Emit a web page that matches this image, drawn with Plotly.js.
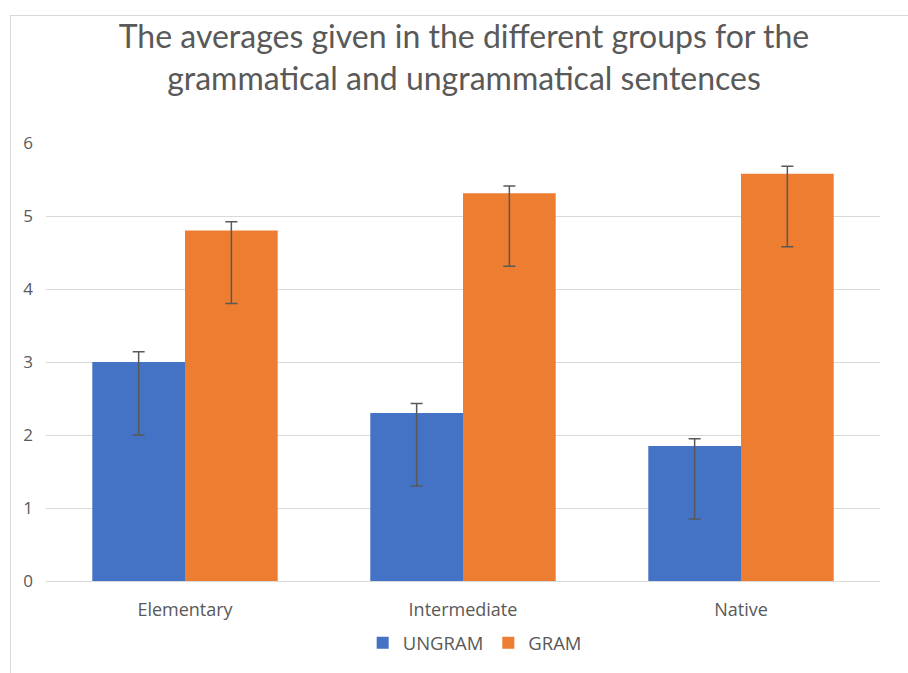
<!DOCTYPE html>
<html>
<head>
<meta charset="utf-8">
<script src="https://cdn.plot.ly/plotly-3.0.1.min.js"></script>
<style>
html,body{margin:0;padding:0;background:#fff;overflow:hidden;}
#frame{position:absolute;left:10px;top:15px;width:1000px;height:800px;border:1px solid #d9d9d9;}
#chart{position:absolute;left:0;top:0;width:908px;height:673px;}
</style>
</head>
<body>
<div id="frame"></div>
<div id="chart"></div>
<script>
const categories = ["Elementary", "Intermediate", "Native"];
const ungram = [3.00, 2.30, 1.85];
const gram = [4.80, 5.31, 5.58];
const ungramErrPlus = [0.14, 0.13, 0.10];
const ungramErrMinus = [1.00, 1.00, 1.00];
const gramErrPlus = [0.12, 0.10, 0.10];
const gramErrMinus = [1.00, 1.00, 1.00];
const yTicks = [0, 1, 2, 3, 4, 5, 6];

const errStyle = {color: "#595959", thickness: 1.5, width: 6};
const traces = [
  {type: "bar", name: "UNGRAM", x: categories, y: ungram, marker: {color: "#4472c4"},
   error_y: Object.assign({type: "data", symmetric: false, array: ungramErrPlus, arrayminus: ungramErrMinus}, errStyle)},
  {type: "bar", name: "GRAM", x: categories, y: gram, marker: {color: "#ed7d31"},
   error_y: Object.assign({type: "data", symmetric: false, array: gramErrPlus, arrayminus: gramErrMinus}, errStyle)}
];
const layout = {
  width: 908, height: 673,
  paper_bgcolor: "rgba(0,0,0,0)", plot_bgcolor: "rgba(0,0,0,0)",
  margin: {l: 46, r: 28, t: 143, b: 92, autoexpand: false},
  font: {family: "Open Sans, sans-serif", color: "#595959", size: 15},
  title: {text: "The averages given in the different groups for the<br>grammatical and ungrammatical sentences",
          font: {family: "Lato, sans-serif", size: 32, color: "#595959"}, x: 0.511, xanchor: "center", y: 0.928, yanchor: "top"},
  barmode: "group", bargap: 0.333, bargroupgap: 0,
  xaxis: {showgrid: false, showline: false, ticks: "", tickfont: {size: 18, color: "#595959"}, ticklabelstandoff: 16, automargin: false},
  yaxis: {range: [0, 6], tickvals: yTicks, showgrid: true, gridcolor: "#d9d9d9", gridwidth: 1, automargin: false,
          zeroline: true, zerolinecolor: "#d9d9d9", zerolinewidth: 1, showline: false, ticks: "",
          tickfont: {size: 17, color: "#595959"}, ticklabelstandoff: 12},
  legend: {orientation: "h", x: 0.514, xanchor: "center", y: -0.142, yanchor: "middle",
           font: {size: 18.5, color: "#595959"}, itemwidth: 30},
  showlegend: true
};
Plotly.newPlot("chart", traces, layout, {displayModeBar: false, staticPlot: true});
</script>
</body>
</html>
